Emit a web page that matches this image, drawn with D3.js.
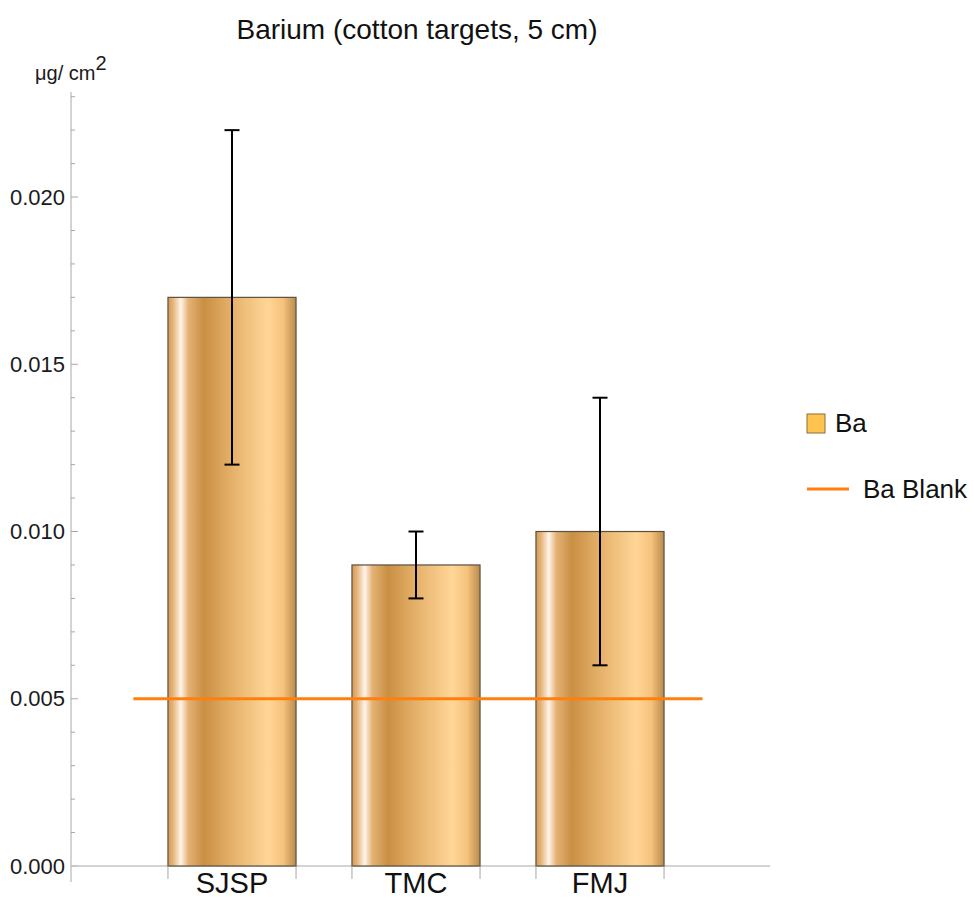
<!DOCTYPE html>
<html>
<head>
<meta charset="utf-8">
<script src="https://cdn.jsdelivr.net/npm/d3@7"></script>
<style>
  body { margin: 0; background: #fff; }
  svg { display: block; font-family: "Liberation Sans", Arial, sans-serif; }
</style>
</head>
<body>
<svg id="chart" width="974" height="898"></svg>
<script>
// Barium deposits on cotton targets at 5 cm
const categories = ["SJSP", "TMC", "FMJ"];
const values = [0.017, 0.009, 0.010];
const errLow = [0.012, 0.008, 0.006];
const errHigh = [0.022, 0.010, 0.014];
const blankValue = 0.005;
const yTicks = [0, 0.005, 0.010, 0.015, 0.020];
const yMinorTicks = d3.range(0, 24).map(i => i / 1000);
const legendLabels = ["Ba", "Ba Blank"];

const svg = d3.select("#chart");

const x = d3.scaleBand()
  .domain(categories)
  .range([140, 692])
  .paddingInner(0.304)
  .paddingOuter(0.152);

const y = d3.scaleLinear()
  .domain([0, 0.02314])
  .range([866, 92]);

// Cylindrical shading for bars
const defs = svg.append("defs");
const grad = defs.append("linearGradient")
  .attr("id", "barShade")
  .attr("x1", "0%").attr("x2", "100%")
  .attr("y1", "0%").attr("y2", "0%");
[
  [0.00, "#d39a55"],
  [0.04, "#e6b57a"],
  [0.10, "#fff4ea"],
  [0.16, "#e4b275"],
  [0.28, "#c98f43"],
  [0.50, "#e5b16a"],
  [0.78, "#ffd697"],
  [0.90, "#f6c27c"],
  [1.00, "#b98b4b"]
].forEach(([o, c]) => grad.append("stop").attr("offset", o).attr("stop-color", c));

// Y axis line and ticks
const axisColor = "#a8a8a8";
svg.append("line")
  .attr("x1", 71).attr("x2", 71)
  .attr("y1", 92).attr("y2", 882)
  .attr("stroke", axisColor).attr("stroke-width", 1);

svg.append("g").selectAll("line")
  .data(yMinorTicks.filter(v => !yTicks.some(t => Math.abs(t - v) < 1e-9)))
  .join("line")
  .attr("x1", 71).attr("x2", 75)
  .attr("y1", d => y(d)).attr("y2", d => y(d))
  .attr("stroke", axisColor);

svg.append("g").selectAll("line")
  .data(yTicks)
  .join("line")
  .attr("x1", 71).attr("x2", 78)
  .attr("y1", d => y(d)).attr("y2", d => y(d))
  .attr("stroke", axisColor);

svg.append("g").selectAll("text")
  .data(yTicks)
  .join("text")
  .attr("x", 65)
  .attr("y", d => y(d))
  .attr("dy", "0.35em")
  .attr("text-anchor", "end")
  .attr("font-size", 22)
  .attr("fill", "#1a1a1a")
  .text(d3.format(".3f"));

// Unit label
const unit = svg.append("text")
  .attr("x", 35).attr("y", 80)
  .attr("font-size", 20)
  .attr("fill", "#1a1a1a");
unit.append("tspan").text("μg/ cm");
unit.append("tspan").attr("dy", -10).attr("font-size", 20).text("2");

// X axis line
svg.append("line")
  .attr("x1", 71).attr("x2", 770)
  .attr("y1", y(0)).attr("y2", y(0))
  .attr("stroke", "#c4c4c4").attr("stroke-width", 1.5);

// Bars
svg.append("g").selectAll("rect")
  .data(categories)
  .join("rect")
  .attr("x", d => x(d))
  .attr("y", (d, i) => y(values[i]))
  .attr("width", x.bandwidth())
  .attr("height", (d, i) => y(0) - y(values[i]))
  .attr("fill", "url(#barShade)")
  .attr("stroke", "#5a5040")
  .attr("stroke-width", 1.2);

// X ticks at bar edges
const edges = categories.flatMap(c => [x(c), x(c) + x.bandwidth()]);
svg.append("g").selectAll("line")
  .data(edges)
  .join("line")
  .attr("x1", d => d).attr("x2", d => d)
  .attr("y1", y(0)).attr("y2", y(0) + 13)
  .attr("stroke", axisColor);

svg.append("g").selectAll("text")
  .data(categories)
  .join("text")
  .attr("x", d => x(d) + x.bandwidth() / 2)
  .attr("y", 893)
  .attr("text-anchor", "middle")
  .attr("font-size", 29)
  .attr("fill", "#111")
  .text(d => d);

// Blank reference line
const bw = x.bandwidth();
svg.append("line")
  .attr("x1", x(categories[0]) - 0.27 * bw)
  .attr("x2", x(categories[categories.length - 1]) + bw * 1.3)
  .attr("y1", y(blankValue)).attr("y2", y(blankValue))
  .attr("stroke", "#ff7f0e").attr("stroke-width", 3);

// Error bars
const eb = svg.append("g").attr("stroke", "#000").attr("stroke-width", 2);
categories.forEach((c, i) => {
  const cx = x(c) + bw / 2;
  eb.append("line").attr("x1", cx).attr("x2", cx)
    .attr("y1", y(errLow[i])).attr("y2", y(errHigh[i]));
  [errLow[i], errHigh[i]].forEach(v => {
    eb.append("line").attr("x1", cx - 7.5).attr("x2", cx + 7.5)
      .attr("y1", y(v)).attr("y2", y(v));
  });
});

// Title
svg.append("text")
  .attr("x", 417).attr("y", 39)
  .attr("text-anchor", "middle")
  .attr("font-size", 28)
  .attr("fill", "#111")
  .text("Barium (cotton targets, 5 cm)");

// Legend
const lg = svg.append("g");
lg.append("rect")
  .attr("x", 807).attr("y", 414)
  .attr("width", 18).attr("height", 19)
  .attr("fill", "#ffc34f")
  .attr("stroke", "#8a6c44").attr("stroke-width", 1);
lg.append("text")
  .attr("x", 835).attr("y", 432)
  .attr("font-size", 26).attr("fill", "#111")
  .text(legendLabels[0]);
lg.append("line")
  .attr("x1", 807).attr("x2", 849)
  .attr("y1", 489).attr("y2", 489)
  .attr("stroke", "#ff7f0e").attr("stroke-width", 3);
lg.append("text")
  .attr("x", 863).attr("y", 498)
  .attr("font-size", 26).attr("fill", "#111")
  .text(legendLabels[1]);
</script>
</body>
</html>
